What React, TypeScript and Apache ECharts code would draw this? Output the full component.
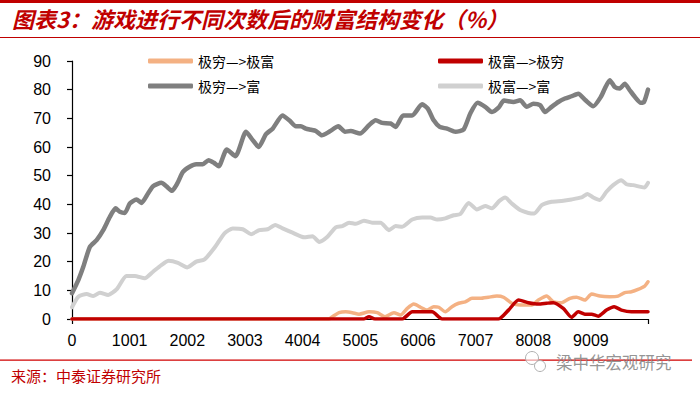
import { useEffect, useRef } from "react";
import * as echarts from "echarts";

const legendNames = ["极穷—>极富", "极富—>极穷", "极穷—>富", "极富—>富"];
const xTickLabels = ["0", "1001", "2002", "3003", "4004", "5005", "6006", "7007", "8008", "9009"];

// 极穷—>富 (dark gray)
const poorToRichX = [0,110,196,311,427,542,657,756,830,917,1003,1119,1205,1320,1407,1551,1638,1735,1828,1926,2042,2157,2272,2370,2463,2549,2687,2837,3022,3137,3241,3368,3483,3656,3772,3887,3974,4060,4147,4234,4337,4464,4625,4740,4839,5000,5156,5272,5387,5531,5618,5750,5905,6078,6177,6280,6384,6511,6656,6799,6915,7042,7174,7290,7405,7500,7664,7780,7895,8010,8126,8212,8327,8443,8558,8673,8789,8916,9049,9182,9262,9337,9424,9510,9597,9683,9770,9874,9931,10000];
const poorToRichY = [9,13.6,18.2,25.2,27.5,31,35.6,38.6,37.4,37,40.3,41.7,40.5,43.8,46.3,47.5,46.3,44.7,47.3,51.3,53.1,54,54,55.4,54.5,53.3,59.1,56.8,65.3,62.4,60,64.5,66.4,71,69.3,67.2,67.2,66.4,66,65.6,64.1,65.3,67.2,65.3,65.6,64.7,67.6,69.3,68.4,68.2,67,71,71,74.9,73.4,69.3,67,66.4,65.3,66.1,71.7,75.4,74,72.2,73.7,76.2,75.7,76.3,74,75.1,74.6,72.2,74,75.7,76.9,77.7,78.6,76.3,74.2,77.5,80.9,83.3,80.9,80.4,82.1,79.8,77.5,75.4,75.7,80];

// 极富—>富 (light gray)
const richToRichX = [0,110,254,369,485,629,773,946,1090,1263,1407,1551,1678,1839,2001,2157,2301,2480,2647,2791,2964,3108,3252,3396,3529,3656,3829,4031,4175,4291,4435,4579,4694,4810,4930,5069,5213,5358,5502,5618,5734,5907,6080,6223,6338,6482,6626,6742,6886,7030,7174,7290,7420,7520,7635,7780,7924,8028,8154,8327,8500,8673,8846,8950,9049,9164,9279,9395,9539,9626,9741,9874,9943,10000];
const richToRichY = [4.1,7.8,8.7,8,9.2,8.4,10.3,15,15,14.2,16.5,18.8,20.3,19.6,18,20,20.8,25,29.9,31.6,31.3,29.6,31,31.3,32.8,31.6,30.1,28.5,28.9,26.9,28.7,32,32.4,33.6,33.2,34.3,33.6,33.6,31,32.4,32.2,34.7,35.4,35.4,34.7,35.1,36.2,36.6,40.5,38.2,39.4,38.6,41.2,42.4,40.3,38,37,36.8,39.7,40.9,41.2,41.7,42.4,43.6,42.4,41.5,44.4,46.7,48.4,47,46.7,46.1,45.9,47.5];

// 极穷—>极富 (orange)
const poorToTopX = [0,4464,4521,4637,4752,4867,4983,5156,5300,5433,5588,5704,5820,5934,6050,6165,6280,6367,6482,6597,6713,6828,6944,7088,7232,7376,7491,7635,7780,7981,8097,8241,8356,8500,8645,8760,8904,9020,9164,9337,9481,9597,9712,9827,9943,10000];
const poorToTopY = [0,0,0.8,2.2,2.5,2.2,1.7,2.5,2.2,0.8,2.2,1.4,3.7,5.2,4.1,3.1,4.3,4.1,2.5,4.3,5.5,6,7.2,7.2,7.6,8,7.6,5.5,4.9,4.9,6.6,8,6,5.7,7.2,7.6,6.6,8.7,8,7.8,8,9.2,9.5,10.3,11.5,13];

// 极富—>极穷 (red)
const topToPoorX = [0,5069,5156,5260,5734,5907,6253,6426,7405,7578,7751,7924,8097,8241,8356,8529,8673,8789,8904,9020,9135,9279,9412,9539,9712,10000];
const topToPoorY = [0,0,0.8,0,0,2.5,2.5,0,0,3.1,6.6,5.7,5.2,5.5,5.7,3.7,0.6,2.5,1.7,1.7,1,3.1,4.3,3.1,2.5,2.5];

const zip = (xs: number[], ys: number[]) => xs.map((x, i) => [x, ys[i]]);

export default function App() {
  const ref = useRef<HTMLDivElement>(null);
  useEffect(() => {
    if (!ref.current) return;
    const chart = echarts.init(ref.current, null, { renderer: "svg" });
    const lineSeries = (name: string, color: string, width: number, xs: number[], ys: number[]) => ({
      name,
      type: "line",
      data: zip(xs, ys),
      showSymbol: false,
      symbol: "none",
      smooth: 0.2,
      lineStyle: { color, width, cap: "round", join: "round" },
      itemStyle: { color },
    });
    const legendBase = {
      orient: "horizontal",
      icon: "roundRect",
      itemWidth: 45,
      itemHeight: 5,
      itemGap: 0,
      textStyle: { fontFamily: "Noto Sans CJK SC", fontSize: 14, color: "#000", padding: [0, 0, 0, 0] },
      padding: 0,
    };
    chart.setOption({
      animation: false,
      backgroundColor: "#fff",
      grid: { left: 72, right: 52, top: 61, bottom: 74, containLabel: false },
      legend: [
        { ...legendBase, data: [legendNames[0]], left: 148, top: 54 },
        { ...legendBase, data: [legendNames[1]], left: 438, top: 54 },
        { ...legendBase, data: [legendNames[2]], left: 148, top: 79 },
        { ...legendBase, data: [legendNames[3]], left: 438, top: 79 },
      ],
      xAxis: [
        {
          type: "value",
          min: 0,
          max: 10000,
          interval: 1001,
          axisLine: { show: true, lineStyle: { color: "#000", width: 1.2 } },
          axisTick: { show: false },
          splitLine: { show: false },
          axisLabel: {
            margin: 13,
            fontFamily: "Liberation Sans",
            fontSize: 16,
            color: "#000",
            formatter: (v: number) => {
              const i = Math.round(v / 1001);
              return v % 1001 === 0 && i < xTickLabels.length ? xTickLabels[i] : "";
            },
          },
        },
        {
          type: "value",
          position: "bottom",
          min: 0,
          max: 10000,
          interval: 10000,
          axisLine: { show: false },
          axisLabel: { show: false },
          axisTick: { show: true, length: 5, lineStyle: { color: "#000", width: 1.2 } },
          splitLine: { show: false },
        },
      ],
      yAxis: {
        type: "value",
        min: 0,
        max: 90,
        interval: 10,
        axisLine: { show: true, lineStyle: { color: "#000", width: 1.2 } },
        axisTick: { show: true, length: 5, lineStyle: { color: "#000", width: 1.2 } },
        splitLine: { show: false },
        axisLabel: { margin: 21, fontFamily: "Liberation Sans", fontSize: 16, color: "#000" },
      },
      series: [
        lineSeries(legendNames[3], "#d0d0d0", 4, richToRichX, richToRichY),
        lineSeries(legendNames[2], "#7f7f7f", 4.5, poorToRichX, poorToRichY),
        lineSeries(legendNames[0], "#f4b183", 3.5, poorToTopX, poorToTopY),
        lineSeries(legendNames[1], "#c00000", 3.5, topToPoorX, topToPoorY),
      ],
      graphic: [
        { type: "rect", shape: { x: 0, y: 0, width: 700, height: 3 }, style: { fill: "#c00000" } },
        {
          type: "text",
          left: 12,
          top: 7,
          style: {
            text: "图表3：游戏进行不同次数后的财富结构变化（%）",
            fontFamily: "Noto Sans CJK SC",
            fontSize: 22,
            fontStyle: "italic",
            fontWeight: "bold",
            fill: "#c00000",
          },
        },
        { type: "rect", shape: { x: 0, y: 37, width: 700, height: 1 }, style: { fill: "#c00000" } },
        { type: "rect", shape: { x: 0, y: 359.5, width: 692, height: 1.2 }, style: { fill: "#d00000" } },
        {
          type: "text",
          left: 11,
          top: 368,
          style: { text: "来源：中泰证券研究所", fontFamily: "Noto Sans CJK SC", fontSize: 15, fill: "#c00000" },
        },
        { type: "circle", shape: { cx: 532, cy: 358, r: 6.5 }, style: { fill: "rgba(255,255,255,0.6)", stroke: "#b0b0b0", lineWidth: 1 } },
        { type: "circle", shape: { cx: 540, cy: 366, r: 5.5 }, style: { fill: "rgba(255,255,255,0.6)", stroke: "#b0b0b0", lineWidth: 1 } },
        {
          type: "text",
          left: 556,
          top: 354,
          style: { text: "梁中华宏观研究", fontFamily: "Noto Sans CJK SC", fontSize: 16.5, fill: "rgba(130,130,130,0.85)" },
        },
      ],
    });
    return () => chart.dispose();
  }, []);
  return <div ref={ref} style={{ position: "fixed", left: 0, top: 0, width: 700, height: 393 }} />;
}
